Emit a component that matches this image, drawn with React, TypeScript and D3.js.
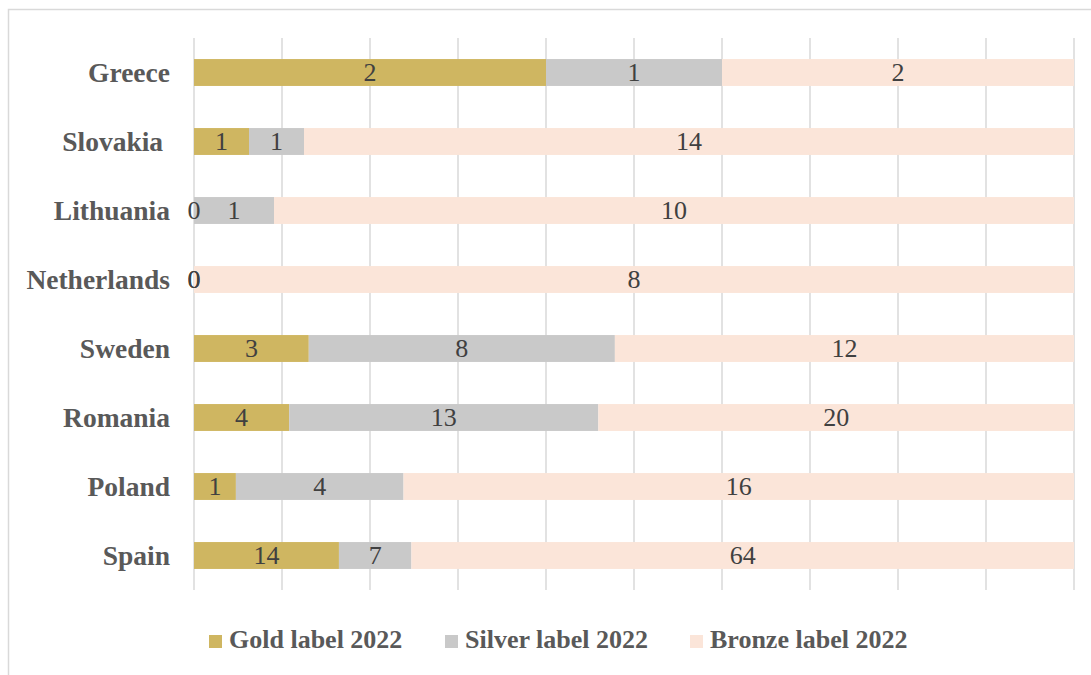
import React from "react";
import * as d3 from "d3";

const countries = ["Greece", "Slovakia ", "Lithuania", "Netherlands", "Sweden", "Romania", "Poland", "Spain"];
const gold = [2, 1, 0, 0, 3, 4, 1, 14];
const silver = [1, 1, 1, 0, 8, 13, 4, 7];
const bronze = [2, 14, 10, 8, 12, 20, 16, 64];
const seriesNames = ["Gold label 2022", "Silver label 2022", "Bronze label 2022"];
const seriesColors = ["#CFB661", "#C9C9C9", "#FBE5D9"];
const xTicks = [0, 0.1, 0.2, 0.3, 0.4, 0.5, 0.6, 0.7, 0.8, 0.9, 1];

export default function App() {
  const W = 1091, H = 675;
  const left = 194, right = 1074, top = 38, bottom = 590;
  const x = d3.scaleLinear().domain([0, 1]).range([left, right]);
  const y = d3.scaleBand().domain(countries).range([top, bottom]).paddingInner(0.61).paddingOuter(0.305);

  const rows = countries.map((c, i) => ({ country: c, g: gold[i], s: silver[i], b: bronze[i] }));
  const stack = d3.stack<any>().keys(["g", "s", "b"]).offset(d3.stackOffsetExpand);
  const series = stack(rows);
  const values = [gold, silver, bronze];

  const legendX = [209, 445, 690];

  return (
    <svg width={W} height={H} style={{ position: "absolute", left: 0, top: 0 }}>
      <rect x={0} y={0} width={W} height={H} fill="#fff" />
      <rect x={8.5} y={9.5} width={1100} height={700} fill="none" stroke="#D9D9D9" strokeWidth={1.5} />
      {xTicks.map((t, i) => (
        <line key={i} x1={x(t)} x2={x(t)} y1={top} y2={bottom} stroke="#D9D9D9" strokeWidth={1.5} />
      ))}
      {series.map((s, si) =>
        s.map((d, ci) => (
          <rect key={si + "-" + ci} x={x(d[0])} y={y(countries[ci])} width={Math.max(0, x(d[1]) - x(d[0]))}
            height={y.bandwidth()} fill={seriesColors[si]} />
        ))
      )}
      {series.map((s, si) =>
        s.map((d, ci) => (
          <text key={"l" + si + "-" + ci} x={(x(d[0]) + x(d[1])) / 2} y={(y(countries[ci]) as number) + y.bandwidth() / 2}
            dy="0.34em" textAnchor="middle" fontFamily="'Liberation Serif', 'Times New Roman', serif" fontSize={26}
            fill="#404040">{values[si][ci]}</text>
        ))
      )}
      {countries.map((c) => (
        <text key={c} x={170} y={(y(c) as number) + y.bandwidth() / 2} dy="0.33em" textAnchor="end"
          style={{ whiteSpace: "pre" }}
          fontFamily="'Liberation Serif', 'Times New Roman', serif" fontWeight="bold" fontSize={27.5} fill="#595959">{c}</text>
      ))}
      {seriesNames.map((n, i) => (
        <g key={n}>
          <rect x={legendX[i]} y={635} width={13} height={13} fill={seriesColors[i]} />
          <text x={legendX[i] + 20} y={648} fontFamily="'Liberation Serif', 'Times New Roman', serif" fontWeight="bold"
            fontSize={26} fill="#595959">{n}</text>
        </g>
      ))}
    </svg>
  );
}
